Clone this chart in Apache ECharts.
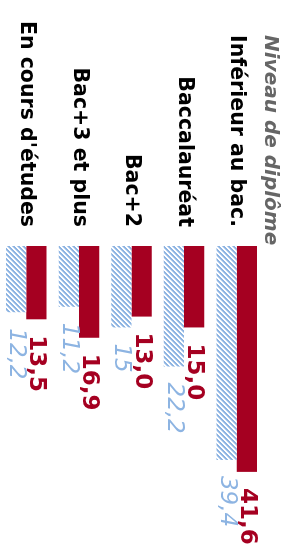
<!DOCTYPE html>
<html><head><meta charset="utf-8">
<script src="https://cdn.jsdelivr.net/npm/echarts@6/dist/echarts.min.js"></script>
<style>
html,body{margin:0;padding:0;width:289px;height:554px;overflow:hidden;background:#fff;}
#wrap{position:absolute;left:0;top:0;width:554px;height:289px;transform-origin:0 0;transform:translate(289px,0) rotate(90deg);}
#chart{width:554px;height:289px;}
</style></head>
<body><div id="wrap"><div id="chart"></div></div>
<script>
const titre = 'Niveau de diplôme';
const categories = ['Inférieur au bac.', 'Baccalauréat', 'Bac+2', 'Bac+3 et plus', "En cours d'études"];
const serieRouge = [41.6, 15.0, 13.0, 16.9, 13.5];
const serieBleue = [39.4, 22.2, 15, 11.2, 12.2];

const P = 5;
const tile = document.createElement('canvas');
tile.width = P; tile.height = P;
const tctx = tile.getContext('2d');
tctx.fillStyle = '#ffffff'; tctx.fillRect(0,0,P,P);
for (let x = 0; x < P; x++) for (let y = 0; y < P; y++) {
  const k = (x + y) % P;
  if (k < 2) { tctx.fillStyle = '#8db4e2'; tctx.fillRect(x, y, 1, 1); }
  else if (k === 2) { tctx.fillStyle = '#b9d0ee'; tctx.fillRect(x, y, 1, 1); }
}

const chart = echarts.init(document.getElementById('chart'), null, {renderer: 'canvas'});
chart.setOption({
  animation: false,
  title: {
    text: titre, left: 30, top: 4,
    textStyle: {fontFamily: 'DejaVu Sans', fontStyle: 'italic', fontWeight: 'bold', fontSize: 20, color: '#666666'}
  },
  grid: {left: 246, width: 271.5, top: 26, height: 269, containLabel: false},
  xAxis: {type: 'value', min: 0, max: 50, show: false},
  yAxis: {
    type: 'category', data: categories, inverse: true,
    axisLine: {show: false}, axisTick: {show: false},
    axisLabel: {margin: 19, fontFamily: 'DejaVu Sans', fontWeight: 'bold', fontSize: 20.5, color: '#000000'}
  },
  series: [
    {
      type: 'bar', name: 'Rouge', data: serieRouge,
      barGap: '0%', barCategoryGap: '23%',
      itemStyle: {color: '#a50021'},
      label: {show: true, position: 'right', distance: 16,
        formatter: p => p.value.toFixed(1).replace('.', ','),
        fontFamily: 'DejaVu Sans', fontWeight: 'bold', fontSize: 23, color: '#a50021'}
    },
    {
      type: 'bar', name: 'Bleu', data: serieBleue,
      barGap: '0%', barCategoryGap: '23%',
      itemStyle: {color: {image: tile, repeat: 'repeat'}},
      label: {show: true, position: 'right', distance: 16,
        formatter: p => String(p.value).replace('.', ','),
        fontFamily: 'DejaVu Sans', fontStyle: 'italic', fontWeight: 'normal', fontSize: 23, color: '#8db4e2'}
    }
  ]
});
</script></body></html>
